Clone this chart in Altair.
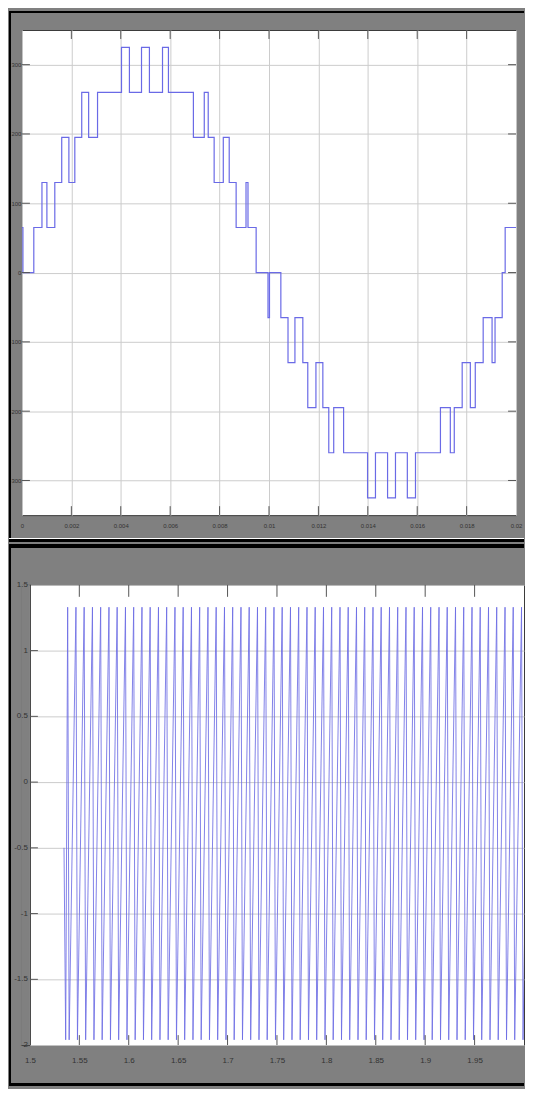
import altair as alt
import pandas as pd

# ---------------- data: top panel (multilevel inverter output voltage) ----------------
top_t_ms = [0, 0.04, 0.48, 0.81, 1.01, 1.33, 1.61, 1.90, 2.14, 2.42,
            2.70, 3.06, 4.03, 4.35, 4.84, 5.16, 5.69, 5.93, 6.94, 7.38,
            7.54, 7.78, 8.15, 8.39, 8.67, 9.07, 9.15, 9.48, 9.96, 10.02,
            10.48, 10.77, 11.05, 11.37, 11.57, 11.90, 12.18, 12.42, 12.62, 13.02,
            13.99, 14.31, 14.80, 15.12, 15.60, 15.93, 16.94, 17.34, 17.50, 17.82,
            18.15, 18.35, 18.67, 19.03, 19.15, 19.44, 19.56, 20.0]
top_v = [65, 0, 65, 130, 65, 130, 195, 130, 195, 260,
         195, 260, 325, 260, 325, 260, 325, 260, 195, 260,
         195, 130, 195, 130, 65, 130, 65, 0, -65, 0,
         -65, -130, -65, -130, -195, -130, -195, -260, -195, -260,
         -325, -260, -325, -260, -325, -260, -195, -260, -195, -130,
         -195, -130, -65, -130, -65, 0, 65, 65]
top_xticks = [0, 0.002, 0.004, 0.006, 0.008, 0.01, 0.012, 0.014, 0.016, 0.018, 0.02]
top_yticks = [300, 200, 100, 0, -100, -200, -300]

# ---------------- data: bottom panel (carrier signal) ----------------
bot_start_t = [1.5345, 1.5362]
bot_start_v = [-0.5, -1.96]
bot_peak_t = [1.5382, 1.5466, 1.5549, 1.5633, 1.5716, 1.5800, 1.5883, 1.5967, 1.6050, 1.6134,
              1.6217, 1.6301, 1.6384, 1.6468, 1.6551, 1.6635, 1.6718, 1.6802, 1.6885, 1.6969,
              1.7052, 1.7136, 1.7219, 1.7303, 1.7386, 1.7470, 1.7553, 1.7637, 1.7720, 1.7804,
              1.7887, 1.7971, 1.8054, 1.8138, 1.8221, 1.8305, 1.8388, 1.8472, 1.8555, 1.8639,
              1.8722, 1.8806, 1.8889, 1.8973, 1.9056, 1.9140, 1.9223, 1.9307, 1.9390, 1.9474,
              1.9557, 1.9641, 1.9724, 1.9808, 1.9891, 1.9975, 2.0058]
bot_trough_t = [1.5397, 1.5481, 1.5564, 1.5648, 1.5731, 1.5815, 1.5898, 1.5982, 1.6065, 1.6149,
                1.6232, 1.6316, 1.6399, 1.6483, 1.6566, 1.6650, 1.6733, 1.6817, 1.6900, 1.6984,
                1.7067, 1.7151, 1.7234, 1.7318, 1.7401, 1.7485, 1.7568, 1.7652, 1.7735, 1.7819,
                1.7902, 1.7986, 1.8069, 1.8153, 1.8236, 1.8320, 1.8403, 1.8487, 1.8570, 1.8654,
                1.8737, 1.8821, 1.8904, 1.8988, 1.9071, 1.9155, 1.9238, 1.9322, 1.9405, 1.9489,
                1.9572, 1.9656, 1.9739, 1.9823, 1.9906, 1.9990, 2.0073]
bot_high = 1.33
bot_low = -1.96
bot_xticks = [1.5, 1.55, 1.6, 1.65, 1.7, 1.75, 1.8, 1.85, 1.9, 1.95]
bot_yticks = [1.5, 1, 0.5, 0, -0.5, -1, -1.5, -2]

# ---------------- tables ----------------
top_df = pd.DataFrame({"t": [m / 1000 for m in top_t_ms], "v": top_v})
rows = [{"t": a, "v": b} for a, b in zip(bot_start_t, bot_start_v)]
for p, q in zip(bot_peak_t, bot_trough_t):
    rows.append({"t": p, "v": bot_high})
    rows.append({"t": q, "v": bot_low})
bot_df = pd.DataFrame(rows)

FONT = "Liberation Sans"
LBL = "#333333"
GRID = "#cccccc"
TICK = "#555555"
WAVE = "#6a6ae6"
label_expr = "'' + datum.value"

one = alt.Data(values=[{"a": 1}])


def px_rect(x, x2, y, y2, color):
    return alt.Chart(one).mark_rect(color=color, strokeWidth=0).encode(
        x=alt.value(x), x2=alt.value(x2), y=alt.value(y), y2=alt.value(y2))


RIGHT = 504  # right edge of the whole figure, relative to the plot origin

# ---------------- top panel ----------------
TW, TH = 496, 487
txs = alt.Scale(domain=[0, 0.02], nice=False, zero=False)
tys = alt.Scale(domain=[-350, 350], nice=False, zero=False)

top_line = alt.Chart(top_df).mark_line(interpolate="step-after", color=WAVE, strokeWidth=1.2).encode(
    x=alt.X("t:Q", scale=txs, axis=alt.Axis(values=top_xticks, labelExpr=label_expr, grid=True,
                                            ticks=False, domain=False, labelPadding=7, labelFontSize=6,
                                            labelFlush=False, title=None, gridColor=GRID,
                                            labelColor=LBL, labelFont=FONT)),
    y=alt.Y("v:Q", scale=tys, axis=alt.Axis(values=top_yticks, labelExpr=label_expr, grid=True,
                                            ticks=False, domain=False, labelPadding=1, labelFontSize=6,
                                            labelFlush=False, title=None, gridColor=GRID,
                                            labelColor=LBL, labelFont=FONT)),
)
t_xt = pd.DataFrame({"t": top_xticks[1:-1]})
t_yt = pd.DataFrame({"v": top_yticks})
top_layers = [
    top_line,
    alt.Chart(t_xt).mark_rule(color=TICK).encode(x="t:Q", y=alt.value(0), y2=alt.value(9)),
    alt.Chart(t_xt).mark_rule(color=TICK).encode(x="t:Q", y=alt.value(TH - 9), y2=alt.value(TH)),
    alt.Chart(t_yt).mark_rule(color=TICK).encode(y="v:Q", x=alt.value(0), x2=alt.value(8)),
    alt.Chart(t_yt).mark_rule(color=TICK).encode(y="v:Q", x=alt.value(TW - 8), x2=alt.value(TW)),
    px_rect(-13, -11, -19, 514, "#000000"),
    px_rect(-13, RIGHT, -19, -17, "#000000"),
    px_rect(-13, RIGHT, 510, 511, "#ffffff"),
    px_rect(-13, RIGHT, 511, 514, "#000000"),
]
top = alt.layer(*top_layers).properties(width=TW, height=TH)

# ---------------- bottom panel ----------------
BW, BH = RIGHT, 462
bxs = alt.Scale(domain=[1.5, 2.0], range=[8, BW], nice=False, zero=False)
bys = alt.Scale(domain=[-2, 1.5], nice=False, zero=False)

bot_line = alt.Chart(bot_df).mark_line(color="#6c6ce4", strokeWidth=0.85, clip=True).encode(
    x=alt.X("t:Q", scale=bxs, axis=alt.Axis(values=bot_xticks, labelExpr=label_expr, grid=False,
                                            ticks=False, domain=False, labelPadding=11, labelFontSize=8,
                                            labelFlush=False, title=None, labelColor=LBL, labelFont=FONT)),
    y=alt.Y("v:Q", scale=bys, axis=alt.Axis(values=bot_yticks, labels=False, grid=True, ticks=False,
                                            domain=False, title=None, gridColor=GRID)),
)
b_lab = pd.DataFrame({"v": bot_yticks, "lab": [f"{v:g}" for v in bot_yticks]})
b_xt = pd.DataFrame({"t": bot_xticks[1:]})
b_yt = pd.DataFrame({"v": bot_yticks[1:-1]})
bot_layers = [
    bot_line,
    px_rect(0, 8, 0, BH, "#808080"),
    px_rect(8, 9, 0, BH, "#3a3a3a"),
    alt.Chart(b_xt).mark_rule(color=TICK).encode(x="t:Q", y=alt.value(0), y2=alt.value(12)),
    alt.Chart(b_xt).mark_rule(color=TICK).encode(x="t:Q", y=alt.value(BH - 10), y2=alt.value(BH)),
    alt.Chart(b_yt).mark_rule(color=TICK).encode(y="v:Q", x=alt.value(8), x2=alt.value(16)),
    alt.Chart(b_lab).mark_text(align="right", baseline="middle", fontSize=8, color=LBL, font=FONT).encode(
        y="v:Q", x=alt.value(6), text="lab:N"),
    px_rect(-13, -11, -41, 503, "#000000"),
    px_rect(-13, BW, -41, -37, "#000000"),
    px_rect(-13, BW, 500, 503, "#000000"),
]
bottom = alt.layer(*bot_layers).properties(width=BW, height=BH)

chart = alt.vconcat(top, bottom, spacing=0).properties(
    padding=0, background="#808080"
).configure_view(fill="white", stroke="#3a3a3a", strokeWidth=1)

chart.save("out.html", embed_options={"renderer": "svg", "actions": False})
